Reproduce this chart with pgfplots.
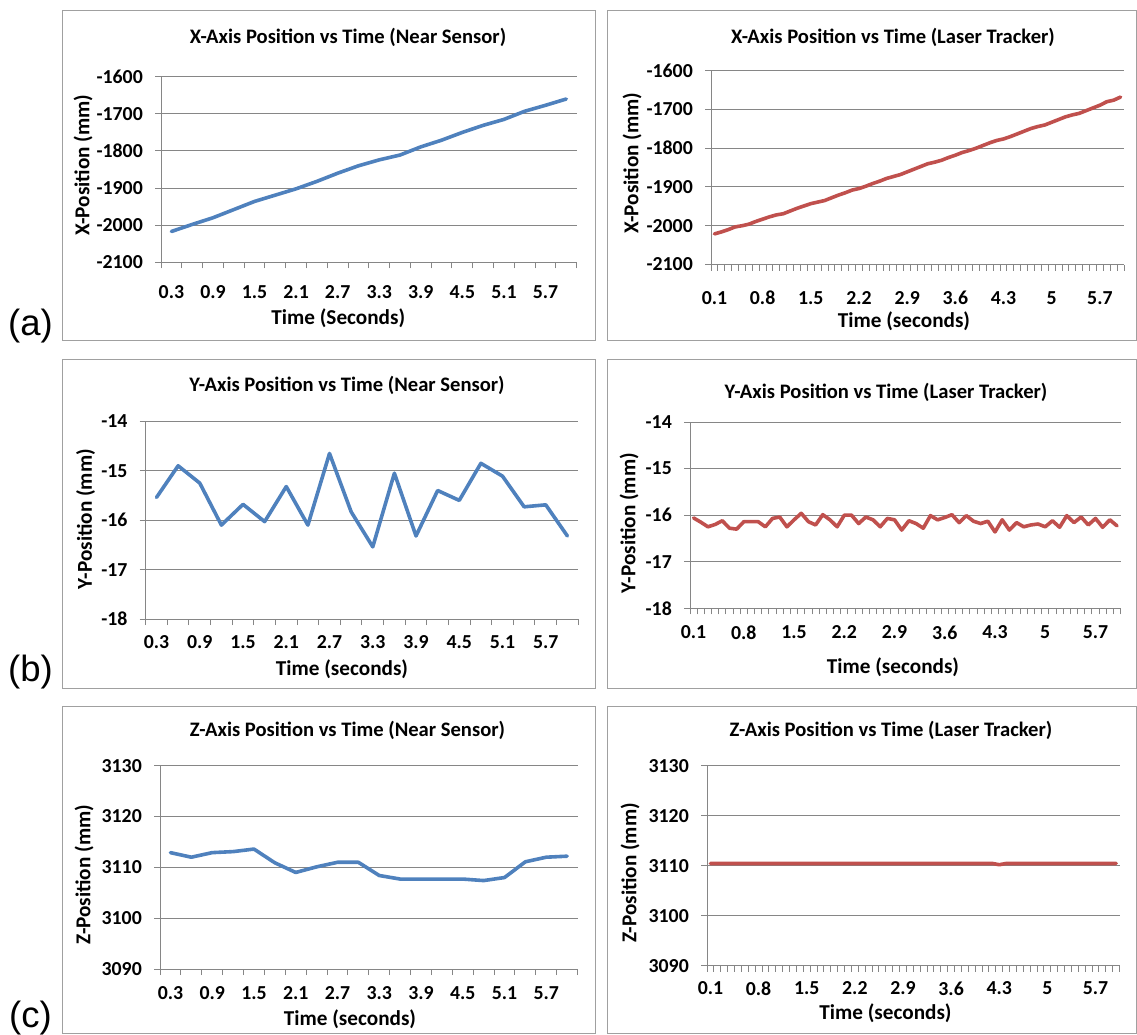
\documentclass[border=0pt]{standalone}
\usepackage{pgfplots}
\pgfplotsset{compat=1.18}
\usepackage{fontspec}
\setmainfont{Carlito}
\newfontfamily\arialfont{Liberation Sans}
\definecolor{axgray}{RGB}{134,134,134}
\definecolor{boxgray}{RGB}{160,160,160}
\definecolor{exblue}{RGB}{79,129,189}
\definecolor{exred}{RGB}{192,80,77}
\newcommand\fs{\fontsize{19.8}{22}\selectfont\bfseries}
\newcommand\fst{\fontsize{20.6}{23}\selectfont\bfseries}
\newcommand\fsl{\fontsize{21.2}{24}\selectfont\bfseries}
\pgfplotsset{
  excel/.style={
    scale only axis,
    anchor=south west,
    axis x line*=bottom, axis y line*=left,
    axis line style={draw=axgray, line width=1pt},
    ymajorgrids, grid style={draw=axgray, line width=1pt},
    tick align=outside,
    major tick length=6pt, minor tick length=6pt,
    tick style={draw=axgray, line width=1pt},
    major x tick style={draw=none},
    xticklabel style={font=\fs, anchor=center, inner sep=0pt},
    yticklabel style={font=\fs, anchor=east, inner sep=0pt, xshift=-12pt},
    clip=false,
  },
  near/.style={excel, xmin=0.5, xmax=20.5,
    xtick={1,3,...,19}, xticklabels={0.3,0.9,1.5,2.1,2.7,3.3,3.9,4.5,5.1,5.7},
    minor xtick={0.5,1.5,...,20.5}},
  track/.style={excel, xmin=0.5, xmax=60.5,
    xtick={1,8,...,57}, xticklabels={0.1,0.8,1.5,2.2,2.9,3.6,4.3,5,5.7},
    minor xtick={0.5,1.5,...,60.5}},
  blueline/.style={exblue, line width=3.6pt, line join=round, line cap=round, mark=none},
  redline/.style={exred, line width=3.6pt, line join=round, line cap=round, mark=none},
}
\begin{document}
\begin{tikzpicture}
\useasboundingbox (0,0) rectangle (1137pt,-1034pt);
% panel boxes
\begin{scope}[draw=boxgray, line width=1pt]
\draw (62.7pt,-10.5pt) rectangle (595.7pt,-340.5pt);
\draw (607pt,-10.5pt) rectangle (1136pt,-340.5pt);
\draw (62.7pt,-359pt) rectangle (595.7pt,-688pt);
\draw (607pt,-359pt) rectangle (1136pt,-688pt);
\draw (62.7pt,-706.5pt) rectangle (595.7pt,-1033.5pt);
\draw (607pt,-706.5pt) rectangle (1136pt,-1033.5pt);
\end{scope}
% panel letters
\node[anchor=base, font=\arialfont\fontsize{36.5}{40}\selectfont, inner sep=0pt] at (30.5pt,-335.7pt) {(a)};
\node[anchor=base, font=\arialfont\fontsize{36.5}{40}\selectfont, inner sep=0pt] at (30.5pt,-681.7pt) {(b)};
\node[anchor=base, font=\arialfont\fontsize{36.5}{40}\selectfont, inner sep=0pt] at (30.5pt,-1027pt) {(c)};

% ---------- (a) left ----------
\begin{axis}[near, at={(161pt,-262.3pt)}, width=415.7pt, height=185.6pt,
  ymin=-2100, ymax=-1600, ytick={-2100,-2000,...,-1600},
  yticklabels={-2100,-2000,-1900,-1800,-1700,-1600},
  xticklabel style={yshift=-24pt}]
\addplot[blueline] coordinates {(1,-2017)(2,-1998)(3,-1980)(4,-1958)(5,-1936)(6,-1919)(7,-1902)(8,-1882)(9,-1860)(10,-1840)
(11,-1824)(12,-1811)(13,-1789)(14,-1771)(15,-1750)(16,-1731)(17,-1715)(18,-1693)(19,-1677)(20,-1660)};
\end{axis}
\node[anchor=base, font=\fst, inner sep=0pt] at (348pt,-43.3pt) {X-Axis Position vs Time (Near Sensor)};
\node[anchor=base, font=\fsl, inner sep=0pt] at (338.3pt,-324pt) {Time (Seconds)};
\node[rotate=90, font=\fsl, inner sep=0pt] at (83pt,-165pt) {X-Position (mm)};

% ---------- (a) right ----------
\begin{axis}[track, at={(711pt,-264.5pt)}, width=413pt, height=193.8pt,
  ymin=-2100, ymax=-1600, ytick={-2100,-2000,...,-1600},
  yticklabels={-2100,-2000,-1900,-1800,-1700,-1600},
  xticklabel style={yshift=-27.5pt}]
\addplot[redline] coordinates {(1,-2021)(2,-2016)(3,-2010)(4,-2003)(5,-2000)(6,-1996)(7,-1989)(8,-1983)(9,-1977)(10,-1972)
(11,-1969)(12,-1962)(13,-1955)(14,-1949)(15,-1943)(16,-1939)(17,-1935)(18,-1928)(19,-1921)(20,-1915)
(21,-1908)(22,-1904)(23,-1898)(24,-1891)(25,-1885)(26,-1878)(27,-1873)(28,-1868)(29,-1861)(30,-1854)
(31,-1847)(32,-1840)(33,-1836)(34,-1831)(35,-1824)(36,-1818)(37,-1811)(38,-1806)(39,-1800)(40,-1793)
(41,-1786)(42,-1780)(43,-1776)(44,-1770)(45,-1763)(46,-1756)(47,-1749)(48,-1744)(49,-1740)(50,-1733)
(51,-1726)(52,-1719)(53,-1714)(54,-1710)(55,-1703)(56,-1696)(57,-1689)(58,-1680)(59,-1676)(60,-1668)};
\end{axis}
\node[anchor=base, font=\fst, inner sep=0pt] at (893pt,-43.3pt) {X-Axis Position vs Time (Laser Tracker)};
\node[anchor=base, font=\fsl, inner sep=0pt] at (904pt,-327.5pt) {Time (seconds)};
\node[rotate=90, font=\fsl, inner sep=0pt] at (632pt,-163pt) {X-Position (mm)};

% ---------- (b) left ----------
\begin{axis}[near, at={(145.7pt,-619pt)}, width=432.5pt, height=197.7pt,
  ymin=-18, ymax=-14, ytick={-18,-17,...,-14},
  yticklabels={-18,-17,-16,-15,-14},
  xticklabel style={yshift=-16.7pt}]
\addplot[blueline] coordinates {(1,-15.54)(2,-14.90)(3,-15.25)(4,-16.10)(5,-15.68)(6,-16.03)(7,-15.32)(8,-16.10)(9,-14.65)(10,-15.83)
(11,-16.54)(12,-15.05)(13,-16.32)(14,-15.40)(15,-15.60)(16,-14.85)(17,-15.11)(18,-15.73)(19,-15.69)(20,-16.32)};
\end{axis}
\node[anchor=base, font=\fst, inner sep=0pt] at (347pt,-391.6pt) {Y-Axis Position vs Time (Near Sensor)};
\node[anchor=base, font=\fsl, inner sep=0pt] at (342pt,-675pt) {Time (seconds)};
\node[rotate=90, font=\fsl, inner sep=0pt] at (85.5pt,-519pt) {Y-Position (mm)};

% ---------- (b) right ----------
\begin{axis}[track, at={(690pt,-608.3pt)}, width=430.6pt, height=186.3pt,
  ymin=-18, ymax=-14, ytick={-18,-17,...,-14},
  yticklabels={-18,-17,-16,-15,-14},
  xticklabel style={yshift=-18.2pt}]
\addplot[redline] coordinates {(1,-16.06)(2,-16.15)(3,-16.25)(4,-16.20)(5,-16.12)(6,-16.28)(7,-16.30)(8,-16.14)(9,-16.14)(10,-16.14)
(11,-16.25)(12,-16.07)(13,-16.04)(14,-16.25)(15,-16.10)(16,-15.96)(17,-16.14)(18,-16.21)(19,-15.99)(20,-16.10)
(21,-16.25)(22,-16.00)(23,-16.00)(24,-16.18)(25,-16.04)(26,-16.10)(27,-16.25)(28,-16.07)(29,-16.10)(30,-16.32)
(31,-16.12)(32,-16.18)(33,-16.28)(34,-16.01)(35,-16.10)(36,-16.05)(37,-15.99)(38,-16.16)(39,-16.01)(40,-16.13)
(41,-16.18)(42,-16.13)(43,-16.36)(44,-16.10)(45,-16.32)(46,-16.16)(47,-16.25)(48,-16.21)(49,-16.19)(50,-16.25)
(51,-16.12)(52,-16.26)(53,-16.01)(54,-16.16)(55,-16.04)(56,-16.21)(57,-16.07)(58,-16.26)(59,-16.10)(60,-16.23)};
\end{axis}
\node[anchor=base, font=\fst, inner sep=0pt] at (886pt,-398pt) {Y-Axis Position vs Time (Laser Tracker)};
\node[anchor=base, font=\fsl, inner sep=0pt] at (893pt,-673.6pt) {Time (seconds)};
\node[rotate=90, font=\fsl, inner sep=0pt] at (629pt,-523pt) {Y-Position (mm)};

% ---------- (c) left ----------
\begin{axis}[near, at={(160pt,-969pt)}, width=417.6pt, height=203.3pt,
  ymin=3090, ymax=3130, ytick={3090,3100,...,3130},
  yticklabels={3090,3100,3110,3120,3130},
  xticklabel style={yshift=-17.7pt}]
\addplot[blueline] coordinates {(1,3112.9)(2,3112.0)(3,3112.9)(4,3113.1)(5,3113.6)(6,3110.9)(7,3109.0)(8,3110.1)(9,3111.0)(10,3111.0)
(11,3108.4)(12,3107.7)(13,3107.7)(14,3107.7)(15,3107.7)(16,3107.4)(17,3108.0)(18,3111.1)(19,3112.0)(20,3112.2)};
\end{axis}
\node[anchor=base, font=\fst, inner sep=0pt] at (347.5pt,-736pt) {Z-Axis Position vs Time (Near Sensor)};
\node[anchor=base, font=\fsl, inner sep=0pt] at (350pt,-1025pt) {Time (seconds)};
\node[rotate=90, font=\fsl, inner sep=0pt] at (84pt,-874.7pt) {Z-Position (mm)};

% ---------- (c) right ----------
\begin{axis}[track, at={(707pt,-965.7pt)}, width=412.6pt, height=200pt,
  ymin=3090, ymax=3130, ytick={3090,3100,...,3130},
  yticklabels={3090,3100,3110,3120,3130},
  xticklabel style={yshift=-16.6pt}]
\addplot[redline] coordinates {(1,3110.45)(2,3110.45)(3,3110.45)(4,3110.45)(5,3110.45)(6,3110.45)(7,3110.45)(8,3110.45)(9,3110.45)(10,3110.45)
(11,3110.45)(12,3110.45)(13,3110.45)(14,3110.45)(15,3110.45)(16,3110.45)(17,3110.45)(18,3110.45)(19,3110.45)(20,3110.45)
(21,3110.45)(22,3110.45)(23,3110.45)(24,3110.45)(25,3110.45)(26,3110.45)(27,3110.45)(28,3110.45)(29,3110.45)(30,3110.45)
(31,3110.45)(32,3110.45)(33,3110.45)(34,3110.45)(35,3110.45)(36,3110.45)(37,3110.45)(38,3110.45)(39,3110.45)(40,3110.45)
(41,3110.45)(42,3110.45)(43,3110.2)(44,3110.45)(45,3110.45)(46,3110.45)(47,3110.45)(48,3110.45)(49,3110.45)(50,3110.45)
(51,3110.45)(52,3110.45)(53,3110.45)(54,3110.45)(55,3110.45)(56,3110.45)(57,3110.45)(58,3110.45)(59,3110.45)(60,3110.45)};
\end{axis}
\node[anchor=base, font=\fst, inner sep=0pt] at (891pt,-736.7pt) {Z-Axis Position vs Time (Laser Tracker)};
\node[anchor=base, font=\fsl, inner sep=0pt] at (885.5pt,-1019pt) {Time (seconds)};
\node[rotate=90, font=\fsl, inner sep=0pt] at (630pt,-873pt) {Z-Position (mm)};
\end{tikzpicture}
\end{document}
